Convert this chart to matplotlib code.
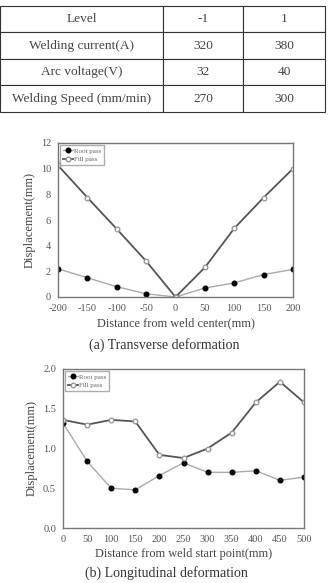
import matplotlib.pyplot as plt

# table
table_rows = ['Level', 'Welding current(A)', 'Arc voltage(V)', 'Welding Speed (mm/min)']
level_low = ['-1', '320', '32', '270']
level_high = ['1', '380', '40', '300']

# (a) transverse
x_trans = [-200, -150, -100, -50, 0, 50, 100, 150, 200]
root_trans = [2.2, 1.5, 0.8, 0.25, 0.0, 0.7, 1.1, 1.75, 2.15]
fill_trans = [10.25, 7.75, 5.3, 2.8, 0.0, 2.3, 5.35, 7.75, 10.0]

# (b) longitudinal
x_long = [0, 50, 100, 150, 200, 250, 300, 350, 400, 450, 500]
root_long = [1.32, 0.84, 0.5, 0.48, 0.66, 0.82, 0.70, 0.70, 0.72, 0.60, 0.64]
fill_long = [1.36, 1.30, 1.36, 1.34, 0.92, 0.88, 1.0, 1.2, 1.58, 1.84, 1.58]

plt.rcParams['font.family'] = ['Liberation Serif', 'DejaVu Serif']
plt.rcParams['axes.unicode_minus'] = False
W, H = 328, 583
fig = plt.figure(figsize=(W / 100, H / 100), dpi=100)


def box(x0, y0, x1, y1):
    # pixel box -> figure fraction
    return [x0 / W, 1 - y1 / H, (x1 - x0) / W, (y1 - y0) / H]


# table drawn as axes
tab_ax = fig.add_axes(box(0, 6, 325, 112))
tab = tab_ax.table(cellText=[[a, b, c] for a, b, c in zip(table_rows, level_low, level_high)],
                   colWidths=[163, 80, 82], cellLoc='center', bbox=[0, 0, 1, 1])
tab.auto_set_font_size(False)
for cell in tab.get_celld().values():
    cell.set_edgecolor('#333333')
    cell.set_linewidth(0.8)
    cell.get_text().set_fontsize(9.6)
    cell.get_text().set_color('#444444')
tab_ax.axis('off')


def style(ax):
    for s in ax.spines.values():
        s.set_color('#777777')
        s.set_linewidth(1.0)
    ax.tick_params(length=0, labelsize=7.5, colors='#555555', pad=5)


def legend(ax):
    leg = ax.legend(loc='upper left', fontsize=5, frameon=True, fancybox=False,
                    borderpad=0.4, handlelength=1.4, labelspacing=0.4,
                    borderaxespad=0.3, handletextpad=0.2)
    leg.get_frame().set_edgecolor('#999999')
    for t in leg.get_texts():
        t.set_color('#666666')


ax1 = fig.add_axes(box(58, 143, 293, 297))
ax1.plot(x_trans, root_trans, color='#aaaaaa', lw=1.0, marker='o', ms=3.3,
         mfc='black', mec='black', label='Root pass')
ax1.plot(x_trans, fill_trans, color='#555555', lw=1.3, marker='o', ms=3.3,
         mfc='white', mec='#999999', label='Fill pass')
ax1.set_xlim(-200, 200)
ax1.set_ylim(0, 12)
ax1.set_xticks(x_trans)
ax1.set_yticks(range(0, 13, 2))
ax1.set_xlabel('Distance from weld center(mm)', fontsize=8.8, color='#444444', labelpad=3)
ax1.set_ylabel('Displacement(mm)', fontsize=9, color='#444444', labelpad=4)
style(ax1)
legend(ax1)
fig.text(164 / W, 1 - 345 / H, '(a) Transverse deformation', ha='center', va='center',
         fontsize=10, color='#333333')

ax2 = fig.add_axes(box(63, 369, 304, 528))
ax2.plot(x_long, root_long, color='#aaaaaa', lw=1.0, marker='o', ms=3.3,
         mfc='black', mec='black', label='Root pass')
ax2.plot(x_long, fill_long, color='#555555', lw=1.3, marker='o', ms=3.3,
         mfc='white', mec='#999999', label='Fill pass')
ax2.set_xlim(0, 500)
ax2.set_ylim(0, 2.0)
ax2.set_xticks(x_long)
ax2.set_yticks([0.0, 0.5, 1.0, 1.5, 2.0])
ax2.set_yticklabels(['0.0', '0.5', '1.0', '1.5', '2.0'])
ax2.set_xlabel('Distance from weld start point(mm)', fontsize=8.8, color='#444444', labelpad=3)
ax2.set_ylabel('Displacement(mm)', fontsize=9, color='#444444', labelpad=4)
style(ax2)
legend(ax2)
fig.text(166 / W, 1 - 573 / H, '(b) Longitudinal deformation', ha='center', va='center',
         fontsize=10, color='#333333')

plt.savefig('out.png', dpi=100)
